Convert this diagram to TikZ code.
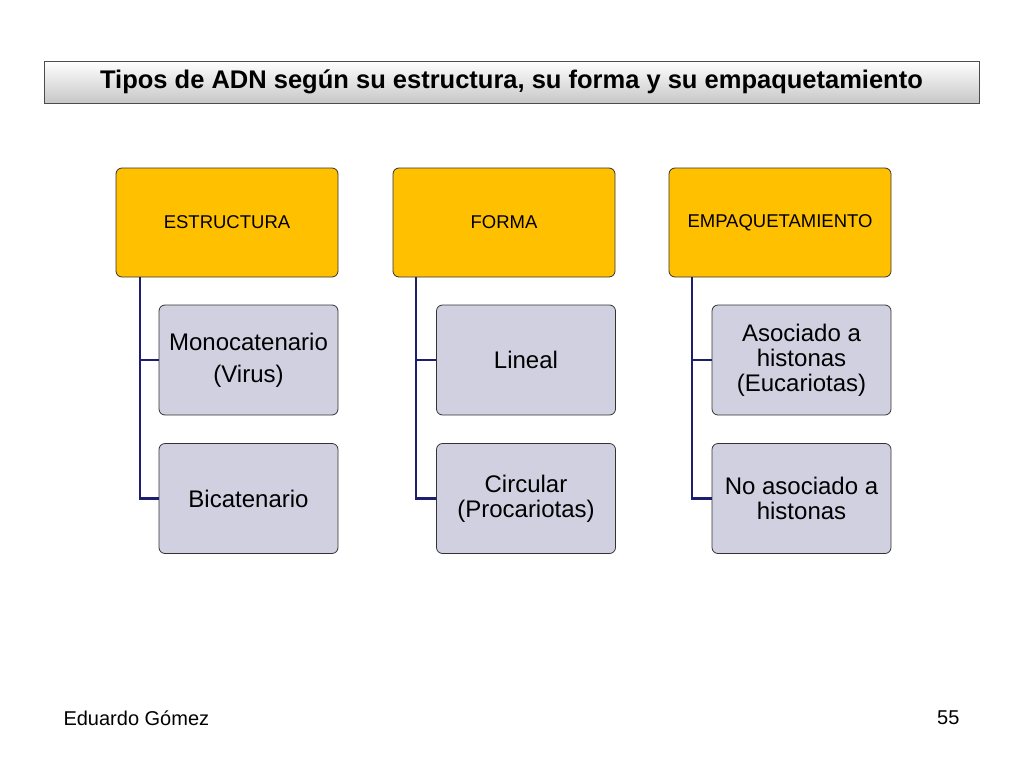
\documentclass[tikz,border=0pt]{standalone}
\usepackage{fontspec}
\setmainfont{Liberation Sans}
\begin{document}
\begin{tikzpicture}[x=1pt,y=-1pt,
 hdr/.style={draw=black!80,line width=0.8pt,rounded corners=6pt,fill={rgb,255:red,255;green,192;blue,0},minimum width=222pt,minimum height=109pt,font=\fontsize{18.5}{21}\selectfont,align=center,inner sep=0pt},
 chd/.style={draw=black!80,line width=0.8pt,rounded corners=6pt,fill={rgb,255:red,208;green,208;blue,224},minimum width=179pt,minimum height=110pt,font=\fontsize{24}{32}\selectfont,align=center,inner sep=0pt},
 chd2/.style={chd,font=\fontsize{24}{25}\selectfont},
 conn/.style={draw={rgb,255:red,30;green,30;blue,110},line width=2.2pt}]
\useasboundingbox (0,0) rectangle (1024,768);
\node[draw=black!70,line width=0.8pt,top color=white,bottom color=black!22,minimum width=935pt,minimum height=42pt,inner sep=0pt,font=\bfseries\fontsize{25.5}{28}\selectfont] (title) at (511.5,82) {Tipos de ADN según su estructura, su forma y su empaquetamiento};
\node[hdr] (h1) at (227,222.5) {ESTRUCTURA};
\node[hdr] (h2) at (504,222.5) {FORMA};
\node[hdr] (h3) at (780,222.5) {EMPAQUETAMIENTO};
\node[chd] (c11) at (248.5,360) {Monocatenario\\(Virus)};
\node[chd] (c12) at (248.5,498.5) {Bicatenario};
\node[chd] (c21) at (526,360) {Lineal};
\node[chd2] (c22) at (526,498.5) {Circular\\(Procariotas)};
\node[chd2] (c31) at (801.5,360) {Asociado a\\histonas\\(Eucariotas)};
\node[chd2] (c32) at (801.5,498.5) {No asociado a\\histonas};
\foreach \h/\a/\b/\x in {h1/c11/c12/140,h2/c21/c22/416,h3/c31/c32/692}{
 \draw[conn] (\x,0 |- \h.south) -- (\x,0 |- \b.west) -- (\b.west);
 \draw[conn] (\x,0 |- \a.west) -- (\a.west);
}
\node[anchor=west,font=\fontsize{20}{22}\selectfont] (auth) at (60,718) {Eduardo Gómez};
\node[anchor=east,font=\fontsize{20}{22}\selectfont] (pg) at (963,718) {55};
\end{tikzpicture}
\end{document}
